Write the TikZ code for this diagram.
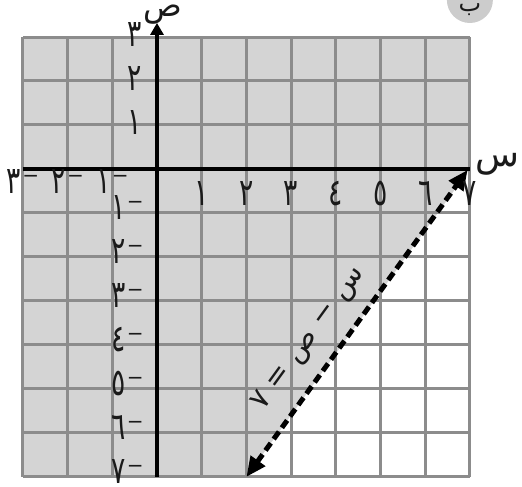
\documentclass[tikz,border=0pt]{standalone}
\usepackage{fontspec}
\newfontfamily\arabicfont[Script=Arabic]{DejaVu Sans}
\usetikzlibrary{arrows.meta}
\TeXXeTstate=1
\definecolor{cellgray}{HTML}{D4D4D4}
\definecolor{gridgray}{HTML}{8C8C8C}
\definecolor{inkgray}{HTML}{1A1A1A}
\newcommand\mytallnum[1]{\scalebox{0.95}[1.35]{#1}}
\newcommand\mynegnum[1]{\mytallnum{#1}\kern1.5pt\raisebox{11pt}{\fontsize{20}{20}\selectfont −}}
\begin{document}
\begin{tikzpicture}[x=44.7pt,y=44pt,
  lbl/.style={font=\arabicfont\fontsize{28}{28}\selectfont, inner sep=0pt, text=inkgray},
  axislbl/.style={font=\arabicfont\fontsize{32}{32}\selectfont, inner sep=0pt, text=inkgray},
  gridline/.style={draw=gridgray, line width=3pt},
  axisline/.style={draw=black, line width=4.5pt},
  bound/.style={draw=black, line width=5pt, dash pattern=on 9pt off 5pt,
    {Triangle[length=20pt,width=17pt]}-{Triangle[length=20pt,width=17pt]}}]
\useasboundingbox (-3.512,-7.227) rectangle (8.166,3.841);
% shading
\fill[cellgray] (-3,-7) rectangle (7,3);
\fill[white] (7,0) -- (7,-7) -- (2,-7) -- cycle;
% grid
\draw[gridline, step={(1,1)}] (-3,-7) grid (7,3);
% axes
\coordinate (xs) at (-3,0);
\coordinate (xe) at (7,0);
\coordinate (ys) at (0,-7);
\coordinate (ye) at (0,3.32);
\draw[axisline] (xs) -- (xe);
\draw[axisline, -{Triangle[length=12pt,width=13pt]}] (ys) -- (ye);
% boundary line
\coordinate (pa) at (2,-7);
\coordinate (pb) at (6.95,-0.02);
\draw[bound] (pa) -- (pb);
\node[font=\arabicfont\fontsize{29}{29}\selectfont, inner sep=0pt, text=inkgray, rotate=54]
  (eq) at (3.40,-3.86) {\beginR س − ص = ٧\endR};
% axis labels
\node[axislbl] (ylab) at (0.12,3.50) {ص};
\node[axislbl, font=\arabicfont\fontsize{36}{36}\selectfont] (xlab) at (7.62,0.1) {س};
% part marker
\node[circle, fill=gray!40, minimum size=46pt, inner sep=0pt] (mark) at (7.0,3.841) {};
\node[font=\arabicfont\fontsize{24}{24}\selectfont, inner sep=0pt, text=inkgray] (markl) at (7.0,3.62) {ب};
% x tick labels
\foreach \v/\d in {1/١,2/٢,3/٣,4/٤,5/٥,6/٦,7/٧}
  \node[lbl] (xl\v) at (\v,-0.55) {\mytallnum{\d}};
\foreach \v/\d in {1/١,2/٢,3/٣}
  \node[lbl] (xn\v) at (-\v,-0.28) {\mynegnum{\d}};
% y tick labels
\foreach \v/\d in {1/١,2/٢,3/٣}
  \node[lbl] (yl\v) at (-0.49,\v+0.06) {\mytallnum{\d}};
\foreach \v/\d in {1/١,2/٢,3/٣,4/٤,5/٥,6/٦,7/٧}
  \node[lbl] (yn\v) at (-0.66,-\v+0.12) {\mynegnum{\d}};
\end{tikzpicture}
\end{document}
